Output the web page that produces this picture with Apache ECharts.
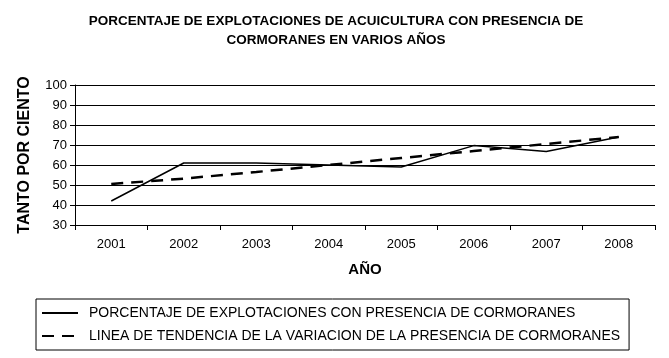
<!DOCTYPE html>
<html><head><meta charset="utf-8">
<script src="https://cdn.jsdelivr.net/npm/echarts@6/dist/echarts.min.js"></script>
<style>html,body{margin:0;padding:0;background:#fff}#c{width:669px;height:358px}</style>
</head><body><div id="c"></div>
<script>
const years = ['2001','2002','2003','2004','2005','2006','2007','2008'];
const porcentaje = [42, 61, 61, 60, 59, 69.7, 66.7, 74];
const tendencia = [50.5, 53.2, 56.5, 60, 63.5, 67, 70.5, 74];
const seriesNames = ['PORCENTAJE DE EXPLOTACIONES CON PRESENCIA DE CORMORANES',
  'LINEA DE TENDENCIA DE LA VARIACION DE LA PRESENCIA DE CORMORANES'];
const titleText = 'PORCENTAJE DE EXPLOTACIONES DE ACUICULTURA CON PRESENCIA DE\nCORMORANES EN VARIOS AÑOS';

const chart = echarts.init(document.getElementById('c'));
const F = 'Arial, "Liberation Sans", sans-serif';
chart.setOption({
  animation: false,
  backgroundColor: '#fff',
  title: {
    text: titleText, left: 331, top: 7, textAlign: 'center',
    textStyle: {fontFamily: F, fontSize: 13.5, fontWeight: 'bold', color: '#000', lineHeight: 19}
  },
  grid: {left: 75, right: 14, top: 85, bottom: 133},
  legend: {
    orient: 'vertical', left: 36, top: 299,
    data: seriesNames,
    itemWidth: 36, itemHeight: 12, itemGap: 9,
    padding: [7, 9, 7, 5],
    borderColor: '#000', borderWidth: 1, borderRadius: 0,
    itemStyle: {color: 'rgba(0,0,0,0)', borderColor: 'rgba(0,0,0,0)', borderWidth: 0},
    textStyle: {fontFamily: F, fontSize: 14, color: '#000', padding: [0,0,0,6]}
  },
  xAxis: {
    type: 'category', data: years, boundaryGap: true,
    name: 'AÑO', nameLocation: 'middle', nameGap: 37,
    nameTextStyle: {fontFamily: F, fontSize: 15, fontWeight: 'bold', color: '#000'},
    axisLine: {lineStyle: {color: '#000', width: 1}},
    axisTick: {show: true, length: 5, lineStyle: {color: '#000'}},
    axisLabel: {fontFamily: F, fontSize: 13, color: '#000', margin: 13}
  },
  yAxis: {
    type: 'value', min: 30, max: 100, interval: 10,
    name: 'TANTO POR CIENTO', nameLocation: 'middle', nameGap: 42,
    nameTextStyle: {fontFamily: F, fontSize: 16, fontWeight: 'bold', color: '#000'},
    axisLine: {show: true, lineStyle: {color: '#000', width: 1}},
    axisTick: {show: true, length: 5, lineStyle: {color: '#000'}},
    axisLabel: {fontFamily: F, fontSize: 13, color: '#000', margin: 8},
    splitLine: {lineStyle: {color: '#000', width: 1}}
  },
  series: [
    {name: seriesNames[0], type: 'line', data: porcentaje, symbol: 'circle', showSymbol: false,
     lineStyle: {color: '#000', width: 1.5}, itemStyle: {color: '#000'}},
    {name: seriesNames[1], type: 'line', data: tendencia, symbol: 'circle', showSymbol: false,
     lineStyle: {color: '#000', width: 2.5, type: [12, 8]}, itemStyle: {color: '#000'}}
  ]
});
</script></body></html>
